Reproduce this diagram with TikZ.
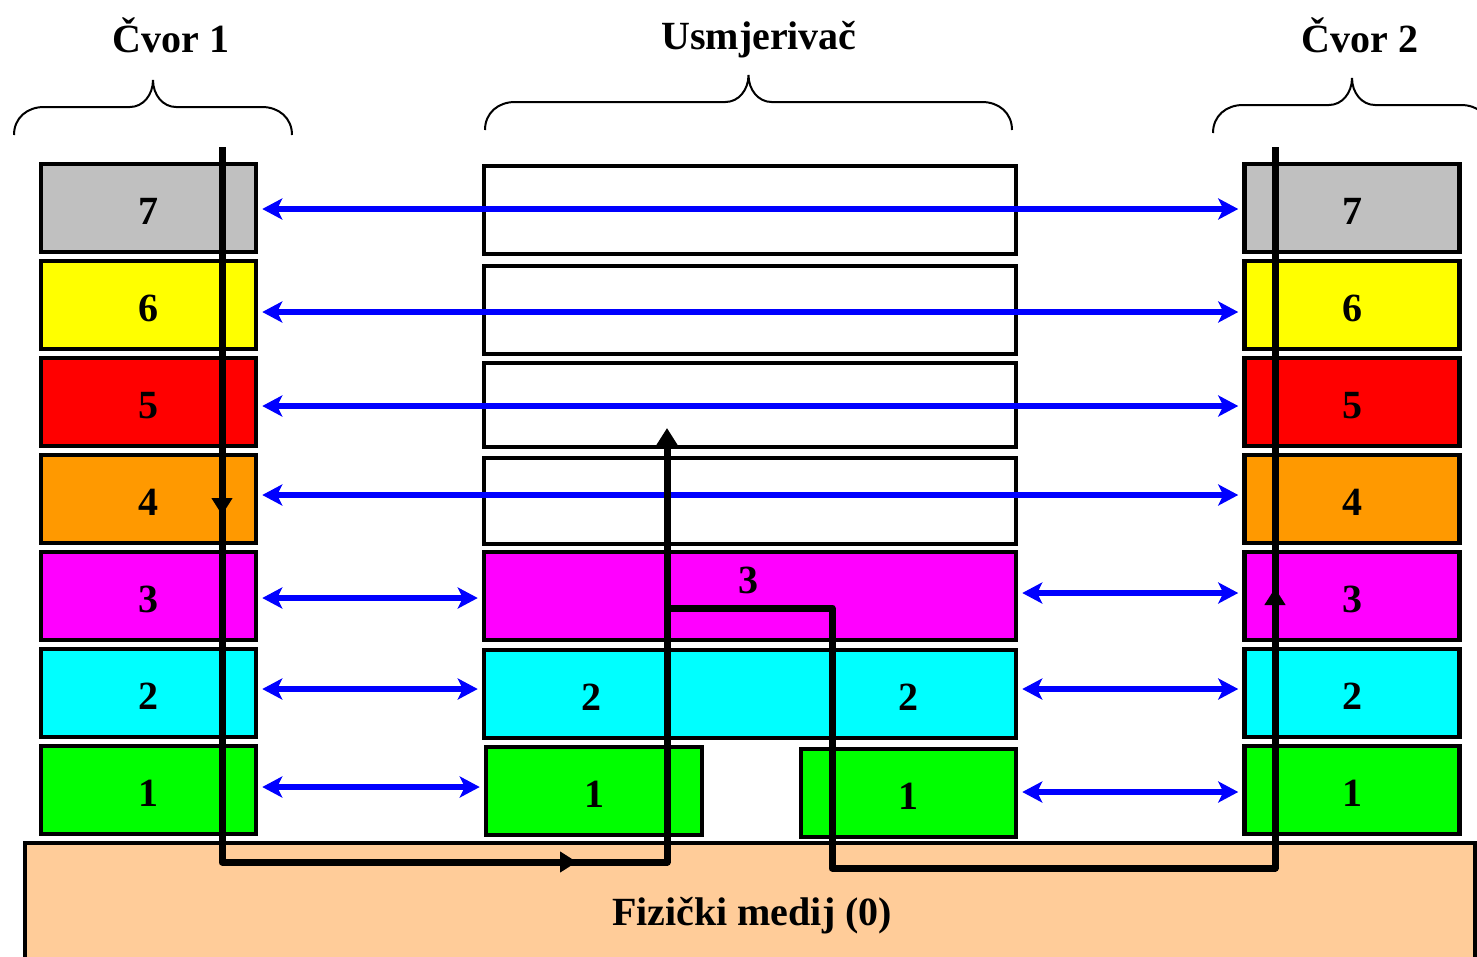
\documentclass[tikz,border=0pt]{standalone}
\usepackage{fontspec}
\setmainfont{Liberation Serif}
\usetikzlibrary{arrows.meta,decorations.markings}

\definecolor{layergray}{RGB}{192,192,192}
\definecolor{layeryellow}{RGB}{255,255,0}
\definecolor{layerred}{RGB}{255,0,0}
\definecolor{layerorange}{RGB}{255,153,0}
\definecolor{layermagenta}{RGB}{255,0,255}
\definecolor{layercyan}{RGB}{0,255,255}
\definecolor{layergreen}{RGB}{0,255,0}
\definecolor{peerblue}{RGB}{0,0,255}
\definecolor{medium}{RGB}{255,204,153}

% Curly brace: left x, right x, y of the ends
\newcommand{\curlybrace}[3]{%
  \draw[line width=2pt] (#1,#3)
    .. controls (#1,{#3-17}) and ({#1+13},{#3-28}) .. ({#1+30},{#3-28})
    -- ({(#1+#2)/2-23},{#3-28})
    .. controls ({(#1+#2)/2-10},{#3-28}) and ({(#1+#2)/2},{#3-40}) .. ({(#1+#2)/2},{#3-55})
    .. controls ({(#1+#2)/2},{#3-40}) and ({(#1+#2)/2+10},{#3-28}) .. ({(#1+#2)/2+23},{#3-28})
    -- ({#2-30},{#3-28})
    .. controls ({#2-13},{#3-28}) and (#2,{#3-17}) .. (#2,#3);
}

\begin{document}
\begin{tikzpicture}[x=1pt,y=-1pt,
    font=\fontsize{40}{48}\selectfont\bfseries,
    layer/.style={draw, line width=4.5pt, minimum width=215pt,
                  minimum height=88pt, inner sep=0pt,
                  text height=33pt, text depth=0pt},
    router/.style={layer, minimum width=532pt},
    conn/.style={draw=peerblue, line width=6.5pt, shorten <=4pt, shorten >=4pt,
                 arrows={Stealth[length=20pt,width=21pt,inset=5pt]-Stealth[length=20pt,width=21pt,inset=5pt]}},
    flow/.style={draw=black, line width=7pt, line join=round}]

\useasboundingbox (0,0) rectangle (1477,956);
\clip (0,0) rectangle (1477,956);

% Braces and titles
\curlybrace{14}{292}{135}
\curlybrace{485}{1012}{130}
\curlybrace{1213}{1491}{133}
\node[anchor=base] (cvor1) at (171,52) {Čvor 1};
\node[anchor=base] (usm) at (759,49) {Usmjerivač};
\node[anchor=base] (cvor2) at (1360,52) {Čvor 2};

% Node 1 layers
\node[layer, fill=layergray] (L7) at (148.5,208) {7};
\node[layer, fill=layeryellow] (L6) at (148.5,305) {6};
\node[layer, fill=layerred] (L5) at (148.5,402) {5};
\node[layer, fill=layerorange] (L4) at (148.5,499) {4};
\node[layer, fill=layermagenta] (L3) at (148.5,596) {3};
\node[layer, fill=layercyan] (L2) at (148.5,693) {2};
\node[layer, fill=layergreen] (L1) at (148.5,790) {1};

% Node 2 layers
\node[layer, fill=layergray] (R7) at (1352,208) {7};
\node[layer, fill=layeryellow] (R6) at (1352,305) {6};
\node[layer, fill=layerred] (R5) at (1352,402) {5};
\node[layer, fill=layerorange] (R4) at (1352,499) {4};
\node[layer, fill=layermagenta] (R3) at (1352,596) {3};
\node[layer, fill=layercyan] (R2) at (1352,693) {2};
\node[layer, fill=layergreen] (R1) at (1352,790) {1};

% Router layers
\node[router, fill=white] (M7) at (750,210) {};
\node[router, fill=white] (M6) at (750,310) {};
\node[router, fill=white, minimum height=84pt] (M5) at (750,405) {};
\node[router, fill=white, minimum height=86pt] (M4) at (750,501) {};
\node[router, fill=layermagenta] (M3) at (750,596) {};
\node[router, fill=layercyan] (M2) at (750,694) {};
\node[layer, fill=layergreen, minimum width=216pt] (M1a) at (594,791) {1};
\node[layer, fill=layergreen] (M1b) at (908.5,793) {1};
\node (m3) at (748,580) {3};
\node (m2a) at (591,697) {2};
\node (m2b) at (908,697) {2};

% Physical medium
\node
[
    draw,
    line width=4.5pt,
    fill=medium,
    minimum width=1450pt,
    minimum height=167pt
] (med) at (750,926.5) {};
\node[anchor=base] (medlbl) at (752,925) {Fizički medij (0)};

% Peer arrows
\draw[conn] ([yshift=-1pt]L7.east) -- ([yshift=-1pt]L7.east -| R7.west);
\draw[conn] ([yshift=-7pt]L6.east) -- ([yshift=-7pt]L6.east -| R6.west);
\draw[conn] ([yshift=-4pt]L5.east) -- ([yshift=-4pt]L5.east -| R5.west);
\draw[conn] ([yshift=4pt]L4.east) -- ([yshift=4pt]L4.east -| R4.west);
\draw[conn] ([yshift=-2pt]L3.east) -- ([yshift=-2pt]L3.east -| M3.west);
\draw[conn] ([yshift=3pt]M3.east) -- ([yshift=3pt]M3.east -| R3.west);
\draw[conn] ([yshift=4pt]L2.east) -- ([yshift=4pt]L2.east -| M2.west);
\draw[conn] ([yshift=4pt]L2.east -| M2.east) -- ([yshift=4pt]L2.east -| R2.west);
\draw[conn] ([yshift=3pt]L1.east) -- ([yshift=3pt]L1.east -| M1a.west);
\draw[conn] ([yshift=-2pt]L1.east -| M1b.east) -- ([yshift=-2pt]L1.east -| R1.west);

% Data path
\coordinate (src) at (222,147);
\coordinate (bus1) at (667,862);
\coordinate (rin) at (667,428);
\coordinate (rout) at (667,608);
\coordinate (bus2) at (832,868);
\coordinate (dst) at (1275,147);
\draw
[
    flow,
    arrows={-Triangle[length=17pt,width=20pt]},
    postaction={decorate},
    decoration={markings,
        mark=at position 368pt with {\arrow{Triangle[length=17pt,width=20pt]}},
        mark=at position 1070pt with {\arrow{Triangle[length=17pt,width=20pt]}}}
] (src) |- (bus1) -- (rin);
\draw
[
    flow,
    postaction={decorate},
    decoration={markings,
        mark=at position 1148pt with {\arrow{Triangle[length=17pt,width=20pt]}}}
] (rout) -| (bus2) -| (dst);
\end{tikzpicture}
\end{document}
